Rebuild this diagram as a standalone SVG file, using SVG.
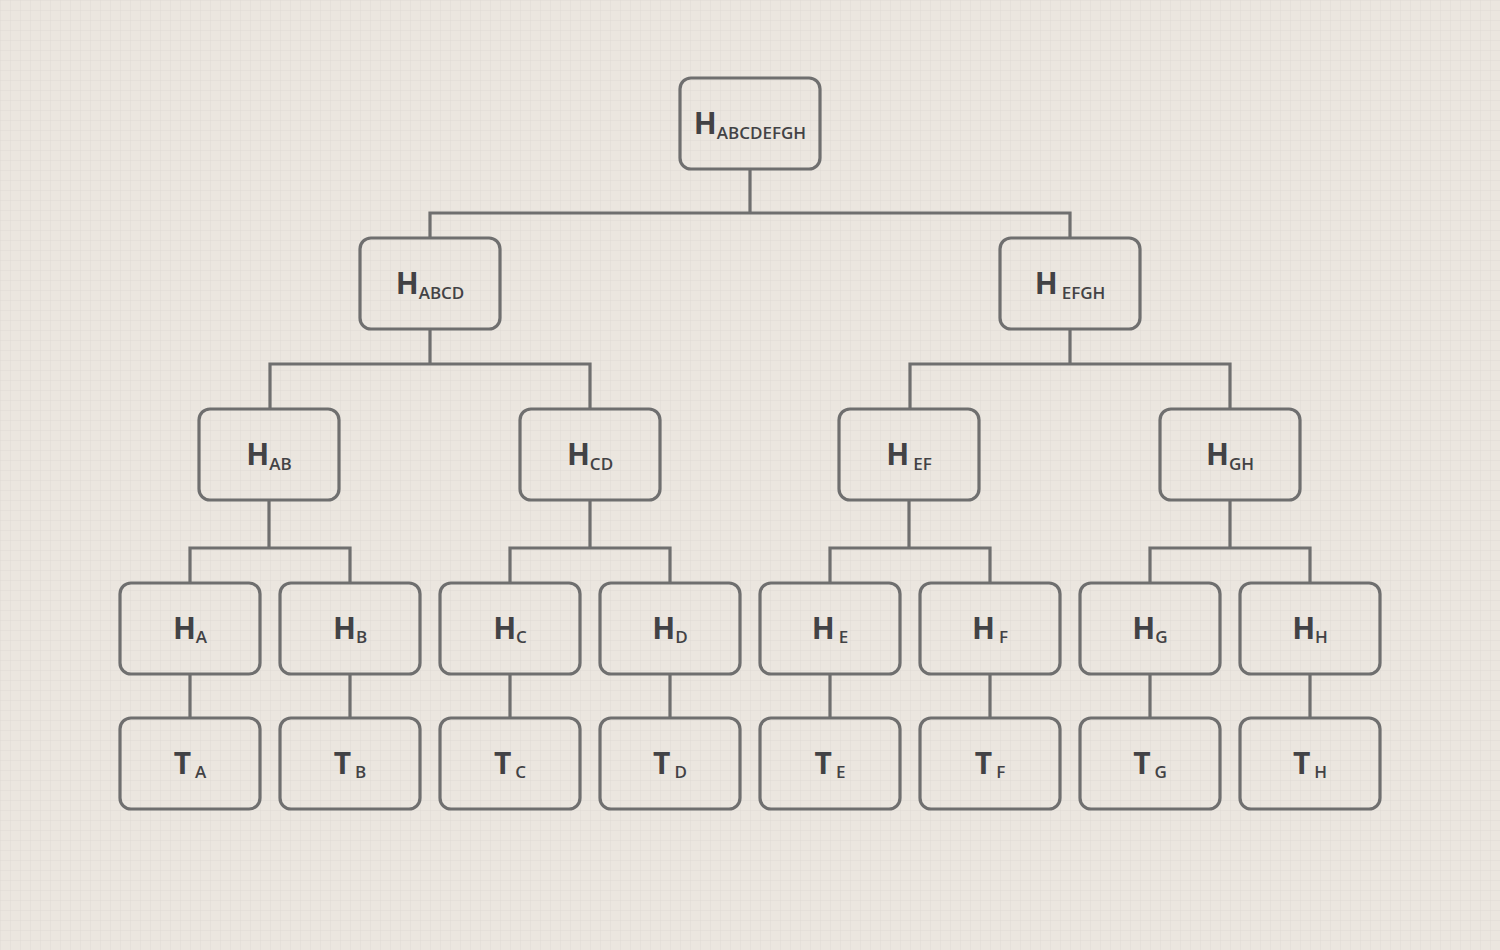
<svg xmlns="http://www.w3.org/2000/svg" width="1500" height="950" viewBox="0 0 1500 950">
<defs>
<pattern id="grid" width="10" height="10" patternUnits="userSpaceOnUse">
<path d="M10 0H0V10" fill="none" stroke="#ddd8d2" stroke-width="0.8"/>
</pattern>
<style>
.n rect{fill:none;stroke:#6f6f6f;stroke-width:3.2;}
.n text{font-family:"Open Sans","Noto Sans",sans-serif;font-weight:700;font-size:30px;fill:#424245;text-anchor:middle;}
.n tspan.s{font-size:17px;font-weight:600;}
#edges path{fill:none;stroke:#6f6f6f;stroke-width:3.2;}
</style>
</defs>
<rect width="1500" height="950" fill="#ebe6df"/>
<rect width="1500" height="950" fill="url(#grid)"/>
<g id="edges">
<path d="M750 169V213M430 238V213H1070V238"/>
<path d="M430 329V364M270 409V364H590V409"/>
<path d="M1070 329V364M910 409V364H1230V409"/>
<path d="M269 500V548M190 583V548H350V583"/>
<path d="M590 500V548M510 583V548H670V583"/>
<path d="M909 500V548M830 583V548H990V583"/>
<path d="M1230 500V548M1150 583V548H1310V583"/>
<path d="M190 674V718M350 674V718M510 674V718M670 674V718M830 674V718M990 674V718M1150 674V718M1310 674V718"/>
</g>
<g id="H_ABCDEFGH" class="n"><rect x="680" y="78" width="140" height="91" rx="11"/><text x="750" y="134">H<tspan class="s" dy="5">ABCDEFGH</tspan></text></g>
<g id="H_ABCD" class="n"><rect x="360" y="238" width="140" height="91" rx="11"/><text x="430" y="294">H<tspan class="s" dy="5">ABCD</tspan></text></g>
<g id="H_EFGH" class="n"><rect x="1000" y="238" width="140" height="91" rx="11"/><text x="1070" y="294">H<tspan class="s" dy="5" dx="4">EFGH</tspan></text></g>
<g id="H_AB" class="n"><rect x="199" y="409" width="140" height="91" rx="11"/><text x="269" y="465">H<tspan class="s" dy="5">AB</tspan></text></g>
<g id="H_CD" class="n"><rect x="520" y="409" width="140" height="91" rx="11"/><text x="590" y="465">H<tspan class="s" dy="5">CD</tspan></text></g>
<g id="H_EF" class="n"><rect x="839" y="409" width="140" height="91" rx="11"/><text x="909" y="465">H<tspan class="s" dy="5" dx="4">EF</tspan></text></g>
<g id="H_GH" class="n"><rect x="1160" y="409" width="140" height="91" rx="11"/><text x="1230" y="465">H<tspan class="s" dy="5">GH</tspan></text></g>
<g id="H_A" class="n"><rect x="120" y="583" width="140" height="91" rx="11"/><text x="190" y="639">H<tspan class="s" dy="4">A</tspan></text></g>
<g id="H_B" class="n"><rect x="280" y="583" width="140" height="91" rx="11"/><text x="350" y="639">H<tspan class="s" dy="4">B</tspan></text></g>
<g id="H_C" class="n"><rect x="440" y="583" width="140" height="91" rx="11"/><text x="510" y="639">H<tspan class="s" dy="4">C</tspan></text></g>
<g id="H_D" class="n"><rect x="600" y="583" width="140" height="91" rx="11"/><text x="670" y="639">H<tspan class="s" dy="4">D</tspan></text></g>
<g id="H_E" class="n"><rect x="760" y="583" width="140" height="91" rx="11"/><text x="830" y="639">H<tspan class="s" dy="4" dx="4">E</tspan></text></g>
<g id="H_F" class="n"><rect x="920" y="583" width="140" height="91" rx="11"/><text x="990" y="639">H<tspan class="s" dy="4" dx="4">F</tspan></text></g>
<g id="H_G" class="n"><rect x="1080" y="583" width="140" height="91" rx="11"/><text x="1150" y="639">H<tspan class="s" dy="4">G</tspan></text></g>
<g id="H_H" class="n"><rect x="1240" y="583" width="140" height="91" rx="11"/><text x="1310" y="639">H<tspan class="s" dy="4">H</tspan></text></g>
<g id="T_A" class="n"><rect x="120" y="718" width="140" height="91" rx="11"/><text x="190" y="774">T<tspan class="s" dy="4" dx="4">A</tspan></text></g>
<g id="T_B" class="n"><rect x="280" y="718" width="140" height="91" rx="11"/><text x="350" y="774">T<tspan class="s" dy="4" dx="4">B</tspan></text></g>
<g id="T_C" class="n"><rect x="440" y="718" width="140" height="91" rx="11"/><text x="510" y="774">T<tspan class="s" dy="4" dx="4">C</tspan></text></g>
<g id="T_D" class="n"><rect x="600" y="718" width="140" height="91" rx="11"/><text x="670" y="774">T<tspan class="s" dy="4" dx="4">D</tspan></text></g>
<g id="T_E" class="n"><rect x="760" y="718" width="140" height="91" rx="11"/><text x="830" y="774">T<tspan class="s" dy="4" dx="4">E</tspan></text></g>
<g id="T_F" class="n"><rect x="920" y="718" width="140" height="91" rx="11"/><text x="990" y="774">T<tspan class="s" dy="4" dx="4">F</tspan></text></g>
<g id="T_G" class="n"><rect x="1080" y="718" width="140" height="91" rx="11"/><text x="1150" y="774">T<tspan class="s" dy="4" dx="4">G</tspan></text></g>
<g id="T_H" class="n"><rect x="1240" y="718" width="140" height="91" rx="11"/><text x="1310" y="774">T<tspan class="s" dy="4" dx="4">H</tspan></text></g>
</svg>
